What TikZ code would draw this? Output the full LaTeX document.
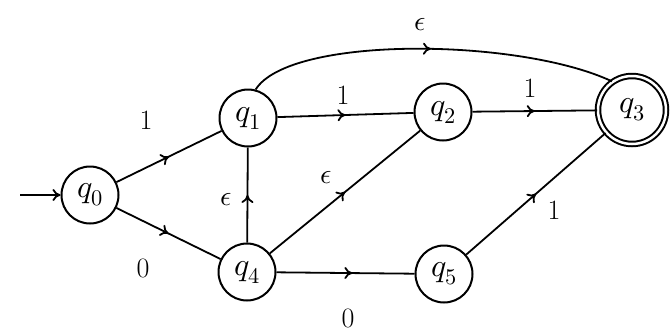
\documentclass[tikz,border=0pt]{standalone}
\usepackage{fontspec}
\usepackage{unicode-math}
\usetikzlibrary{decorations.markings,arrows.meta}
\begin{document}
\begin{tikzpicture}[x=1pt,y=-1pt,
  state/.style={circle,draw,line width=2pt,minimum size=57pt,inner sep=0pt,font=\fontsize{32}{34}\selectfont},
  accept/.style={state,double,double distance=2.5pt,minimum size=68pt},
  lbl/.style={font=\fontsize{28}{30}\selectfont},
  edge/.style={line width=1.8pt},
  midarrow/.style={edge,postaction={decorate},decoration={markings,mark=at position #1 with {\arrow{To[length=8pt,width=12pt,line width=1.8pt,open]}}}},
  midarrow/.default=0.5]
\useasboundingbox (0,0) rectangle (672,333);
\node[state] (q0) at (90,195) {$q_0$};
\node[state] (q1) at (248,118) {$q_1$};
\node[state] (q2) at (443,112) {$q_2$};
\node[accept] (q3) at (632,110) {$q_3$};
\node[state] (q4) at (247,272) {$q_4$};
\node[state] (q5) at (444,274) {$q_5$};
\coordinate (s) at (20,195);
\draw[edge,-{To[length=8pt,width=12pt,line width=1.8pt,open]}] (s) -- (q0);
\draw[midarrow] (q0) -- (q1);
\draw[midarrow] (q0) -- (q4);
\draw[midarrow] (q1) -- (q2);
\draw[midarrow] (q2) -- (q3);
\draw[midarrow] (q1.75) .. controls (290,35) and (520,38) .. (q3.125);
\draw[midarrow] (q4) -- (q1);
\draw[midarrow] (q4) -- (q2);
\draw[midarrow=0.55] (q4) -- (q5);
\draw[midarrow] (q5) -- (q3);
\node[lbl] (l01) at (146,120) {1};
\node[lbl] (l04) at (143,268) {0};
\node[lbl] (l12) at (343,95) {1};
\node[lbl] (l23) at (530,88) {1};
\node[lbl] (l13) at (420,25) {$\epsilon$};
\node[lbl] (l41) at (226,200) {$\epsilon$};
\node[lbl] (l42) at (326,178) {$\epsilon$};
\node[lbl] (l45) at (348,318) {0};
\node[lbl] (l53) at (554,210) {1};
\end{tikzpicture}
\end{document}
